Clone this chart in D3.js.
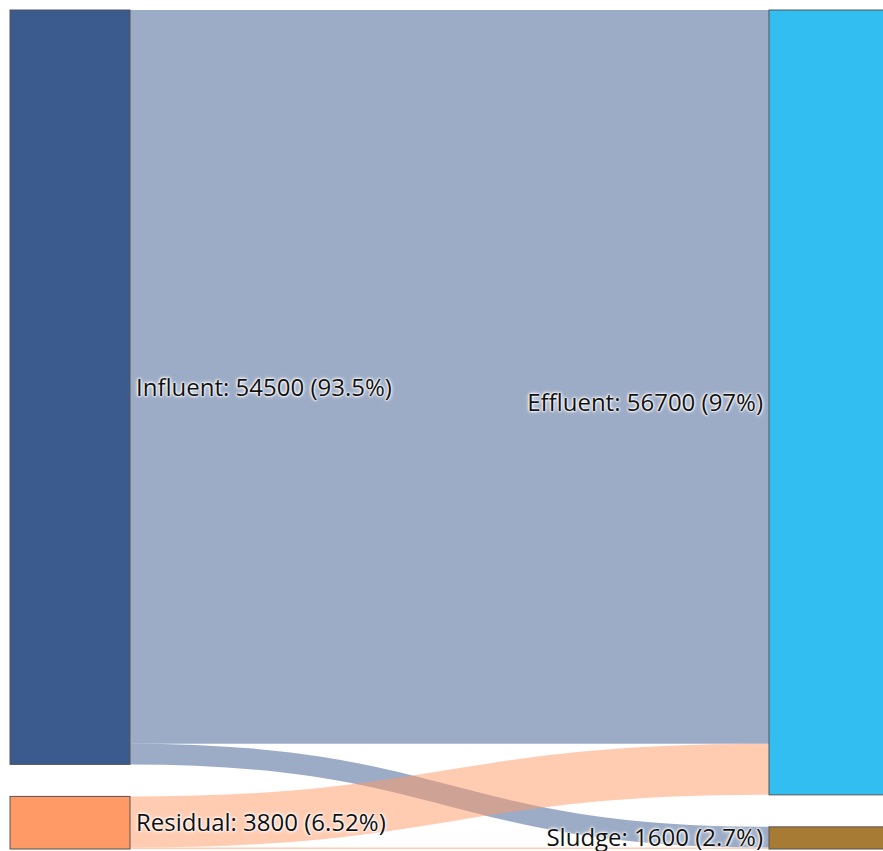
<!DOCTYPE html>
<meta charset="utf-8">
<style>
  body { margin: 0; background: #fff; }
  .node rect { stroke: #555; stroke-width: 1; }
  .link { fill: none; stroke-opacity: 0.5; }
  .label {
    font-family: "Open Sans", "Noto Sans", sans-serif;
    font-size: 24px;
    fill: #111;
    text-shadow: 0 0 2px #fff, 0 0 2px #fff, 0 0 3px #fff, 0 0 4px #fff;
  }
</style>
<svg width="883" height="851"></svg>
<script src="https://d3js.org/d3.v7.min.js"></script>
<script>
// data
var nodeNames  = ["Influent", "Residual", "Effluent", "Sludge"];
var nodeColumn = [0, 0, 1, 1];
var nodeColors = ["#3b5a8e", "#ff9966", "#33bef2", "#a87b34"];
var pctLabels  = ["93.5%", "6.52%", "97%", "2.7%"];

var linkSource = ["Influent", "Influent", "Residual", "Residual"];
var linkTarget = ["Effluent", "Sludge", "Effluent", "Sludge"];
var linkValue  = [53000, 1500, 3700, 100];

var width = 883, height = 851;
var nodeWidth = 120, nodePadding = 32;
var extTop = 10, extBottom = 849, extLeft = 10, extRight = 889;

var svg = d3.select("svg");

// build graph
var nodes = nodeNames.map(function(n, i) {
  return { name: n, col: nodeColumn[i], color: nodeColors[i], pct: pctLabels[i],
           sourceLinks: [], targetLinks: [] };
});
var byName = {};
nodes.forEach(function(n) { byName[n.name] = n; });

var links = linkValue.map(function(v, i) {
  var l = { source: byName[linkSource[i]], target: byName[linkTarget[i]], value: v };
  l.source.sourceLinks.push(l);
  l.target.targetLinks.push(l);
  return l;
});

nodes.forEach(function(n) {
  n.value = Math.max(d3.sum(n.sourceLinks, function(l) { return l.value; }),
                     d3.sum(n.targetLinks, function(l) { return l.value; }));
});

var columns = d3.groups(nodes, function(n) { return n.col; }).map(function(g) { return g[1]; });

// vertical scale: same for every column
var ky = d3.min(columns, function(c) {
  return (extBottom - extTop - (c.length - 1) * nodePadding) / d3.sum(c, function(n) { return n.value; });
});
var y = d3.scaleLinear().domain([0, 1]).range([0, ky]);

var x = d3.scaleLinear()
    .domain([0, d3.max(nodeColumn)])
    .range([extLeft, extRight - nodeWidth]);

columns.forEach(function(c) {
  var yy = extTop;
  c.forEach(function(n) {
    n.x0 = x(n.col);
    n.x1 = n.x0 + nodeWidth;
    n.y0 = yy;
    n.y1 = yy + y(n.value);
    yy = n.y1 + nodePadding;
  });
});

// link positions
nodes.forEach(function(n) {
  var sy = n.y0, ty = n.y0;
  n.sourceLinks.sort(function(a, b) { return a.target.y0 - b.target.y0; }).forEach(function(l) {
    l.width = y(l.value);
    l.y0 = sy + l.width / 2;
    sy += l.width;
  });
  n.targetLinks.sort(function(a, b) { return a.source.y0 - b.source.y0; }).forEach(function(l) {
    l.width = y(l.value);
    l.y1 = ty + l.width / 2;
    ty += l.width;
  });
});

svg.append("g")
  .selectAll("path")
  .data(links)
  .enter()
  .append("path")
    .attr("class", "link")
    .attr("d", d3.linkHorizontal()
        .source(function(d) { return [d.source.x1, d.y0]; })
        .target(function(d) { return [d.target.x0, d.y1]; }))
    .attr("stroke", function(d) { return d.source.color; })
    .attr("stroke-width", function(d) { return Math.max(1, d.width); });

var node = svg.append("g")
  .attr("class", "node")
  .selectAll("g")
  .data(nodes)
  .enter()
  .append("g");

node.append("rect")
    .attr("x", function(d) { return d.x0; })
    .attr("y", function(d) { return d.y0; })
    .attr("width", function(d) { return d.x1 - d.x0; })
    .attr("height", function(d) { return d.y1 - d.y0; })
    .attr("fill", function(d) { return d.color; });

svg.append("g")
  .selectAll("text")
  .data(nodes)
  .enter()
  .append("text")
    .attr("class", "label")
    .attr("x", function(d) { return d.col === 0 ? d.x1 + 6 : d.x0 - 6; })
    .attr("y", function(d) { return (d.y0 + d.y1) / 2; })
    .attr("dy", "0.35em")
    .attr("text-anchor", function(d) { return d.col === 0 ? "start" : "end"; })
    .text(function(d) { return d.name + ": " + d.value + " (" + d.pct + ")"; });
</script>
